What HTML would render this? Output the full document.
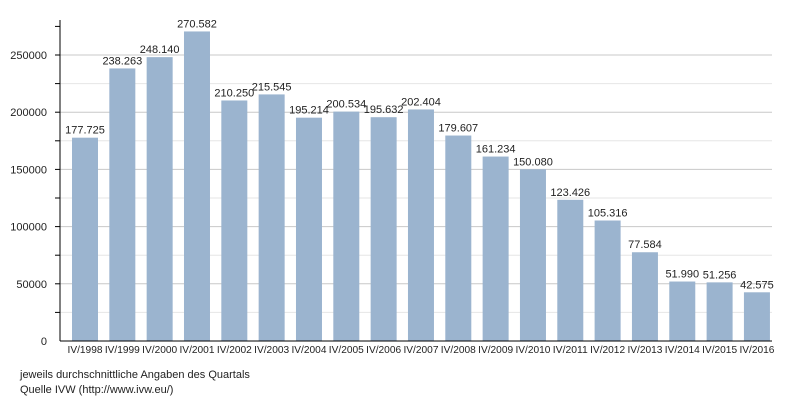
<!DOCTYPE html>
<html><head><meta charset="utf-8"><style>
body{margin:0;background:#fff;width:800px;height:400px;overflow:hidden}
text{font-family:"Liberation Sans",sans-serif}
</style></head><body>
<svg width="800" height="400" id="c">
<g id="grid"></g><g id="bars"></g><g id="labels"></g>
<line x1="60" y1="20" x2="60" y2="341" stroke="#000" stroke-width="1"/>
<line x1="60" y1="341" x2="772" y2="341" stroke="#000" stroke-width="1"/>
<text x="20" y="378" font-size="11" fill="#222">jeweils durchschnittliche Angaben des Quartals</text>
<text x="20" y="393" font-size="11" fill="#222">Quelle IVW (http://www.ivw.eu/)</text>
</svg>
<script>
const categories=["IV/1998","IV/1999","IV/2000","IV/2001","IV/2002","IV/2003","IV/2004","IV/2005","IV/2006","IV/2007","IV/2008","IV/2009","IV/2010","IV/2011","IV/2012","IV/2013","IV/2014","IV/2015","IV/2016"];
const values=[177725,238263,248140,270582,210250,215545,195214,200534,195632,202404,179607,161234,150080,123426,105316,77584,51990,51256,42575];
const valueLabels=["177.725","238.263","248.140","270.582","210.250","215.545","195.214","200.534","195.632","202.404","179.607","161.234","150.080","123.426","105.316","77.584","51.990","51.256","42.575"];
const yTicks=[0,50000,100000,150000,200000,250000];
const NS="http://www.w3.org/2000/svg";
function y(v){return 341-v*286/250000;}
function xc(i){return 85+i*37.33;}
function mk(t,a,p){const e=document.createElementNS(NS,t);for(const k in a)e.setAttribute(k,a[k]);p.appendChild(e);return e;}
const grid=document.getElementById('grid'),bars=document.getElementById('bars'),labels=document.getElementById('labels');
for(let v=25000;v<=275000;v+=25000){
  const major=v%50000===0;
  if(v<=250000){const l=mk('line',{x1:60,x2:772,y1:y(v),y2:y(v),stroke:major?'#c8c8c8':'#e6e6e6','stroke-width':1},grid);
  
  }
  const t=mk('line',{x1:55,x2:60,y1:y(v),y2:y(v),stroke:'#000','stroke-width':1},grid);
  
  
}
yTicks.forEach(v=>{const t=mk('text',{x:47,y:y(v)+4,'font-size':11,'text-anchor':'end',fill:'#222'},labels);t.textContent=v;

});
values.forEach((v,i)=>{
  const r=mk('rect',{x:xc(i)-13,y:y(v),width:26,height:341-y(v),fill:'#9bb4cf'},bars);
  
  
  const t=mk('text',{x:xc(i),y:y(v)-4,'font-size':11,'text-anchor':'middle',fill:'#222'},labels);t.textContent=valueLabels[i];
  
  
  const c=mk('text',{x:xc(i),y:353,'font-size':10.5,'text-anchor':'middle',fill:'#222',textLength:35,lengthAdjust:'spacingAndGlyphs'},labels);c.textContent=categories[i];
  
  
});
</script>
</body></html>
